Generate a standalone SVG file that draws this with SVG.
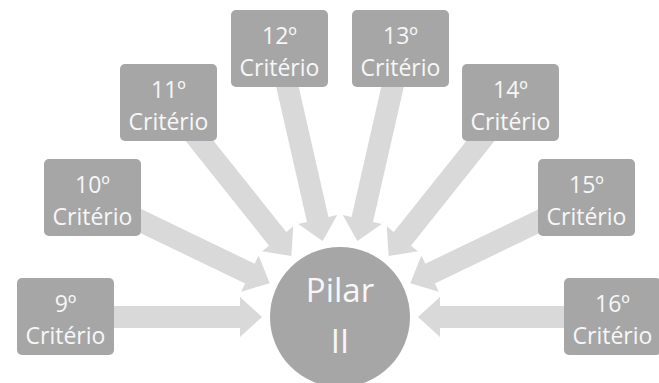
<svg xmlns="http://www.w3.org/2000/svg" width="659" height="383" viewBox="0 0 659 383">
  <defs>
    <style>
      .box { fill: #a6a6a6; }
      .hub { fill: #a6a6a6; }
      .arrow { fill: #d9d9d9; }
      .lbl { font-family: "Open Sans", "Liberation Sans", sans-serif; font-size: 23px; fill: #f7f7f7; text-anchor: middle; }
      .hub-lbl { font-family: "Open Sans", "Liberation Sans", sans-serif; font-size: 33px; fill: #f7f7f7; text-anchor: middle; }
    </style>
    <!-- block arrow pointing along +x, tip at origin -->
    <polygon id="blockArrow" points="-197,-11 -22,-11 -22,-20 0,0 -22,20 -22,11 -197,11"/>
  </defs>
  <rect width="659" height="383" fill="#ffffff"/>

  <g id="connectors" class="arrow">
    <use href="#blockArrow" transform="translate(340,317) rotate(0) translate(-78,0)"/>
    <use href="#blockArrow" transform="translate(340,317) rotate(25.71) translate(-78,0)"/>
    <use href="#blockArrow" transform="translate(340,317) rotate(51.43) translate(-78,0)"/>
    <use href="#blockArrow" transform="translate(340,317) rotate(77.14) translate(-78,0)"/>
    <use href="#blockArrow" transform="translate(340,317) rotate(102.86) translate(-78,0)"/>
    <use href="#blockArrow" transform="translate(340,317) rotate(128.57) translate(-78,0)"/>
    <use href="#blockArrow" transform="translate(340,317) rotate(154.29) translate(-78,0)"/>
    <use href="#blockArrow" transform="translate(340,317) rotate(180) translate(-78,0)"/>
  </g>

  <g id="pilar-ii">
    <circle class="hub" cx="340" cy="317" r="70"/>
    <text class="hub-lbl" x="340" y="302">Pilar</text>
    <text class="hub-lbl" x="340" y="353">II</text>
  </g>

  <g id="criterio-9">
    <rect class="box" x="17" y="278" width="97" height="77" rx="5"/>
    <text class="lbl" x="65.5" y="312">9º</text>
    <text class="lbl" x="65.5" y="344">Critério</text>
  </g>
  <g id="criterio-10">
    <rect class="box" x="44" y="159" width="97" height="77" rx="5"/>
    <text class="lbl" x="92.5" y="193">10º</text>
    <text class="lbl" x="92.5" y="225">Critério</text>
  </g>
  <g id="criterio-11">
    <rect class="box" x="120" y="64" width="97" height="77" rx="5"/>
    <text class="lbl" x="168.5" y="98">11º</text>
    <text class="lbl" x="168.5" y="130">Critério</text>
  </g>
  <g id="criterio-12">
    <rect class="box" x="231" y="10" width="97" height="77" rx="5"/>
    <text class="lbl" x="279.5" y="44">12º</text>
    <text class="lbl" x="279.5" y="76">Critério</text>
  </g>
  <g id="criterio-13">
    <rect class="box" x="352" y="10" width="97" height="77" rx="5"/>
    <text class="lbl" x="400.5" y="44">13º</text>
    <text class="lbl" x="400.5" y="76">Critério</text>
  </g>
  <g id="criterio-14">
    <rect class="box" x="462" y="64" width="97" height="77" rx="5"/>
    <text class="lbl" x="510.5" y="98">14º</text>
    <text class="lbl" x="510.5" y="130">Critério</text>
  </g>
  <g id="criterio-15">
    <rect class="box" x="538" y="159" width="97" height="77" rx="5"/>
    <text class="lbl" x="586.5" y="193">15º</text>
    <text class="lbl" x="586.5" y="225">Critério</text>
  </g>
  <g id="criterio-16">
    <rect class="box" x="564" y="278" width="97" height="77" rx="5"/>
    <text class="lbl" x="612.5" y="312">16º</text>
    <text class="lbl" x="612.5" y="344">Critério</text>
  </g>
</svg>
